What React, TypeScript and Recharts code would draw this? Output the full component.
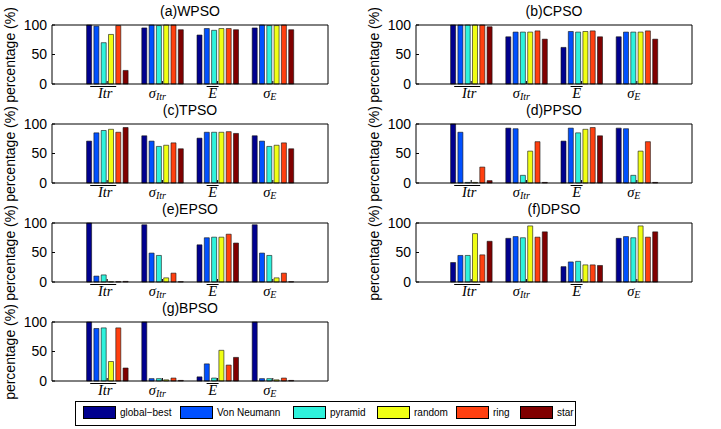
import { BarChart, Bar, XAxis, YAxis } from "recharts";

// series, in legend order
const SERIES = ["global-best", "Von Neumann", "pyramid", "random", "ring", "star"];
const SERIES_KEYS = ["gb", "vn", "py", "rd", "rg", "st"];
const COLORS = ["#00008f", "#0050ff", "#2ef2dc", "#f0ff14", "#ff4010", "#800000"];

// groups on the x axis (xlim 0..5): mean Itr, sigma Itr, mean E, sigma E
const CATEGORY_POS = [1, 2, 3, 4];
const Y_TICKS = [0, 50, 100];

// each row: one series, values for the 4 groups
const WPSO = [
  [100, 95, 83, 95],
  [98, 100, 94, 100],
  [70, 99, 91, 99],
  [84, 100, 94, 99],
  [99, 100, 94, 100],
  [23, 92, 92, 92],
];
const CPSO = [
  [100, 80, 62, 80],
  [100, 88, 89, 88],
  [100, 88, 88, 88],
  [100, 88, 89, 88],
  [100, 90, 90, 90],
  [97, 76, 80, 76],
];
const TPSO = [
  [71, 80, 76, 80],
  [85, 71, 86, 71],
  [89, 62, 86, 62],
  [91, 64, 86, 64],
  [86, 68, 87, 68],
  [94, 58, 84, 58],
];
const PPSO = [
  [100, 93, 71, 93],
  [86, 92, 93, 92],
  [1, 13, 85, 13],
  [1, 54, 91, 54],
  [27, 70, 94, 70],
  [4, 1, 80, 1],
];
const EPSO = [
  [100, 97, 63, 97],
  [10, 49, 75, 49],
  [12, 45, 76, 45],
  [0.5, 7, 76, 7],
  [0.5, 15, 81, 15],
  [1, 0.5, 66, 0.5],
];
const DPSO = [
  [33, 74, 26, 74],
  [45, 77, 34, 77],
  [45, 75, 35, 75],
  [82, 95, 29, 95],
  [46, 76, 29, 76],
  [69, 85, 28, 85],
];
const BPSO = [
  [100, 100, 7, 100],
  [89, 4, 29, 4],
  [90, 4, 5, 4],
  [33, 2, 52, 2],
  [90, 5, 27, 5],
  [22, 1, 40, 1],
];

const FONT = '"Liberation Sans", Arial, Helvetica, sans-serif';
const SERIF = '"Liberation Serif", "Times New Roman", serif';

const PLOT_W = 276;
const PLOT_H = 59;
const YAXIS_W = 52;
const RAXIS_W = 8;
const TOP_H = 25;
const BOTTOM_H = 25;

function toRows(values: number[][]) {
  return CATEGORY_POS.map((x, i) => {
    const row: Record<string, number> = { x };
    SERIES_KEYS.forEach((k, s) => {
      row[k] = values[s]![i]!;
    });
    return row;
  });
}

function MathTick(props: any) {
  const { x, y, payload } = props;
  const base = Math.round(y) + 14;
  const bar = base - 11.5;
  const common = { fill: "#000", fontFamily: SERIF, fontStyle: "italic" as const, fontSize: 14.5 };
  switch (payload.value) {
    case 1:
      return (
        <g>
          <text x={x - 2} y={base} textAnchor="middle" {...common}>Itr</text>
          <line x1={x - 17} x2={x + 9} y1={bar} y2={bar} stroke="#000" strokeWidth={1} />
        </g>
      );
    case 2:
      return (
        <text x={x - 5} y={base} textAnchor="middle" {...common}>
          σ<tspan fontSize={10} dy={2}>Itr</tspan>
        </text>
      );
    case 3:
      return (
        <g>
          <text x={x - 5} y={base} textAnchor="middle" {...common}>E</text>
          <line x1={x - 11} x2={x + 1} y1={bar} y2={bar} stroke="#000" strokeWidth={1} />
        </g>
      );
    default:
      return (
        <text x={x - 3} y={base} textAnchor="middle" {...common}>
          σ<tspan fontSize={10} dy={2}>E</tspan>
        </text>
      );
  }
}

interface PanelProps {
  title: string;
  values: number[][];
  frameLeft: number;
  frameTop: number;
}

function Panel({ title, values, frameLeft, frameTop }: PanelProps) {
  const rows = toRows(values);
  return (
    <>
      <div
        style={{
          position: "absolute",
          left: frameLeft,
          top: frameTop - 21,
          width: PLOT_W,
          textAlign: "center",
          fontFamily: FONT,
          fontSize: 14,
          lineHeight: "14px",
          color: "#000",
        }}
      >
        {title}
      </div>
      <div
        style={{
          position: "absolute",
          left: frameLeft - 42 - 60,
          top: frameTop + PLOT_H / 2 - 7,
          width: 120,
          textAlign: "center",
          fontFamily: FONT,
          fontSize: 14,
          lineHeight: "14px",
          color: "#000",
          transform: "rotate(-90deg)",
          whiteSpace: "nowrap",
        }}
      >
        percentage (%)
      </div>
      <div style={{ position: "absolute", left: frameLeft - YAXIS_W, top: frameTop - TOP_H }}>
        <BarChart
          width={YAXIS_W + PLOT_W + RAXIS_W}
          height={TOP_H + PLOT_H + BOTTOM_H}
          data={rows}
          margin={{ top: 0, right: 0, bottom: 0, left: 0 }}
          barSize={5}
          barGap={2.3}
        >
          <XAxis
            dataKey="x"
            type="number"
            domain={[0, 5]}
            ticks={CATEGORY_POS}
            height={BOTTOM_H}
            tickSize={-3}
            tickMargin={3}
            tick={<MathTick />}
            axisLine={{ stroke: "#000" }}
            tickLine={{ stroke: "#000" }}
          />
          <XAxis
            xAxisId="top"
            orientation="top"
            dataKey="x"
            type="number"
            domain={[0, 5]}
            ticks={CATEGORY_POS}
            height={TOP_H}
            tickSize={-3}
            tick={false}
            axisLine={{ stroke: "#000" }}
            tickLine={{ stroke: "#000" }}
          />
          <YAxis
            type="number"
            domain={[0, 100]}
            ticks={Y_TICKS}
            width={YAXIS_W}
            tickSize={-3}
            tickMargin={8}
            tick={{ fontSize: 14, fill: "#000", fontFamily: FONT }}
            axisLine={{ stroke: "#000" }}
            tickLine={{ stroke: "#000" }}
          />
          <YAxis
            yAxisId="right"
            orientation="right"
            type="number"
            domain={[0, 100]}
            ticks={Y_TICKS}
            width={RAXIS_W}
            tickSize={-3}
            tick={false}
            axisLine={{ stroke: "#000" }}
            tickLine={{ stroke: "#000" }}
          />
          {SERIES_KEYS.map((k, i) => (
            <Bar
              key={k}
              dataKey={k}
              name={SERIES[i]}
              fill={COLORS[i]}
              stroke="#111"
              strokeWidth={0.6}
              isAnimationActive={false}
            />
          ))}
        </BarChart>
      </div>
    </>
  );
}

const LEGEND_OFFSETS = [7, 104, 217, 301, 380, 444];

function LegendBox() {
  return (
    <div
      style={{
        position: "absolute",
        left: 75,
        top: 401,
        width: 501,
        height: 25,
        boxSizing: "border-box",
        border: "1px solid #000",
        background: "#fff",
        fontFamily: FONT,
        fontSize: 10,
      }}
    >
      {SERIES.map((name, i) => (
        <div key={name} style={{ position: "absolute", left: LEGEND_OFFSETS[i], top: 0, height: 23, whiteSpace: "nowrap" }}>
          <div
            style={{
              position: "absolute",
              left: 0,
              top: 4,
              width: 33,
              height: 13,
              boxSizing: "border-box",
              border: "1px solid #000",
              background: COLORS[i],
            }}
          />
          <span style={{ position: "absolute", left: 37, top: 0, lineHeight: "22px", color: "#000" }}>
            {name.replace("-", "\u2212")}
          </span>
        </div>
      ))}
    </div>
  );
}

export default function App() {
  return (
    <div
      style={{
        position: "absolute",
        left: 0,
        top: 0,
        width: 721,
        height: 429,
        background: "#fff",
        overflow: "hidden",
      }}
    >
      <Panel title="(a)WPSO" values={WPSO} frameLeft={52} frameTop={25} />
      <Panel title="(b)CPSO" values={CPSO} frameLeft={416} frameTop={25} />
      <Panel title="(c)TPSO" values={TPSO} frameLeft={52} frameTop={124} />
      <Panel title="(d)PPSO" values={PPSO} frameLeft={416} frameTop={124} />
      <Panel title="(e)EPSO" values={EPSO} frameLeft={52} frameTop={223} />
      <Panel title="(f)DPSO" values={DPSO} frameLeft={416} frameTop={223} />
      <Panel title="(g)BPSO" values={BPSO} frameLeft={52} frameTop={322} />
      <LegendBox />
    </div>
  );
}
